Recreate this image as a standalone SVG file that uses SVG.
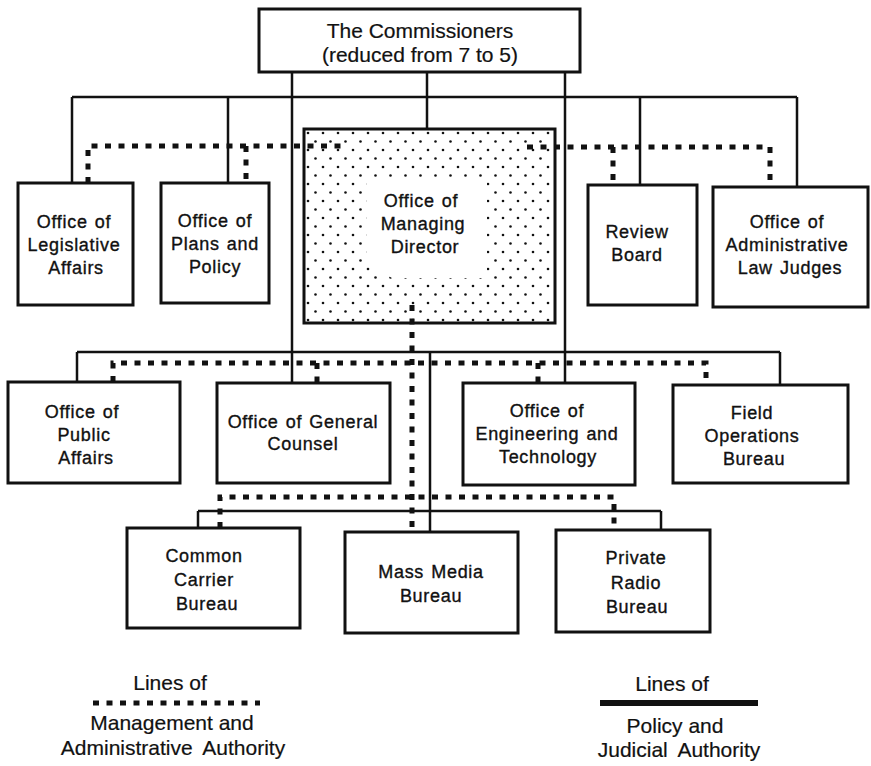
<svg xmlns="http://www.w3.org/2000/svg" width="871" height="766" viewBox="0 0 871 766">
<style>
.box{fill:#fff;stroke:#111;stroke-width:3}
.t{font-family:"Liberation Sans",Arial,sans-serif;font-size:18px;fill:#111;stroke:#111;stroke-width:0.35;text-anchor:middle;letter-spacing:0.7px;word-spacing:1.5px}
.tc{font-family:"Liberation Sans",Arial,sans-serif;font-size:21px;fill:#111;stroke:#111;stroke-width:0.2;text-anchor:middle}
.sol{fill:none;stroke:#111;stroke-width:2.5}
.dot{fill:none;stroke:#111;stroke-width:5;stroke-dasharray:6 7.5}
</style>
<defs>
<pattern id="stip" patternUnits="userSpaceOnUse" width="15" height="17" x="304" y="129">
<circle cx="4" cy="4" r="1.3" fill="#111"/>
<circle cx="11.5" cy="12.5" r="1.3" fill="#111"/>
</pattern>
</defs>
<rect width="871" height="766" fill="#fff"/>
<g id="commissioners">
<rect class="box" x="259" y="9" width="321" height="63"/>
<text class="tc" x="420" y="38">The Commissioners</text>
<text class="tc" x="420" y="62">(reduced from 7 to 5)</text>
</g>
<g id="legislative">
<rect class="box" x="18" y="183" width="115" height="122"/>
<text class="t" x="74" y="228">Office of</text>
<text class="t" x="74" y="251">Legislative</text>
<text class="t" x="76" y="274">Affairs</text>
</g>
<g id="plans">
<rect class="box" x="161" y="183" width="108" height="120"/>
<text class="t" x="215" y="227">Office of</text>
<text class="t" x="215" y="250">Plans and</text>
<text class="t" x="215" y="273">Policy</text>
</g>
<g id="managing-director">
<rect class="box" x="304" y="129" width="251" height="194" style="fill:url(#stip)"/>
<path d="M367,177H487V278H392L367,264Z" fill="#fff"/>
<text class="t" x="421" y="207">Office of</text>
<text class="t" x="423" y="230">Managing</text>
<text class="t" x="425" y="253">Director</text>
</g>
<g id="review-board">
<rect class="box" x="588" y="185" width="109" height="120"/>
<text class="t" x="637" y="238">Review</text>
<text class="t" x="637" y="261">Board</text>
</g>
<g id="alj">
<rect class="box" x="713" y="187" width="155" height="120"/>
<text class="t" x="787" y="228">Office of</text>
<text class="t" x="787" y="251">Administrative</text>
<text class="t" x="790" y="274">Law Judges</text>
</g>
<g id="public-affairs">
<rect class="box" x="8" y="382" width="172" height="101"/>
<text class="t" x="82" y="418">Office of</text>
<text class="t" x="84" y="441">Public</text>
<text class="t" x="86" y="464">Affairs</text>
</g>
<g id="general-counsel">
<rect class="box" x="217" y="383" width="173" height="100"/>
<text class="t" x="303" y="428">Office of General</text>
<text class="t" x="303" y="450">Counsel</text>
</g>
<g id="engineering">
<rect class="box" x="463" y="383" width="172" height="102"/>
<text class="t" x="547" y="417">Office of</text>
<text class="t" x="547" y="440">Engineering and</text>
<text class="t" x="548" y="463">Technology</text>
</g>
<g id="field-operations">
<rect class="box" x="673" y="385" width="175" height="98"/>
<text class="t" x="752" y="419">Field</text>
<text class="t" x="752" y="442">Operations</text>
<text class="t" x="754" y="465">Bureau</text>
</g>
<g id="common-carrier">
<rect class="box" x="127" y="528" width="173" height="100"/>
<text class="t" x="204" y="562">Common</text>
<text class="t" x="204" y="586">Carrier</text>
<text class="t" x="207" y="610">Bureau</text>
</g>
<g id="mass-media">
<rect class="box" x="345" y="532" width="173" height="101"/>
<text class="t" x="431" y="578">Mass Media</text>
<text class="t" x="431" y="602">Bureau</text>
</g>
<g id="private-radio">
<rect class="box" x="556" y="530" width="154" height="102"/>
<text class="t" x="636" y="564">Private</text>
<text class="t" x="636" y="589">Radio</text>
<text class="t" x="637" y="613">Bureau</text>
</g>
<g id="connectors">
<path class="sol" d="M292,72V383 M427,72V129 M565,72V384 M72,97H797 M72,97V183 M228,97V183 M640,97V185 M797,97V187 M77,352H780 M77,352V382 M780,352V385 M430,352V532 M198,511H661 M198,511V528 M661,511V530"/>
<path class="dot" d="M88,183V146H343 M246,146V183 M527,147H770V187 M613,147V185"/>
<path class="dot" d="M113,382V363H706V385 M317,363V383 M538,363V383"/>
<path class="dot" d="M412,305V532 M220,528V497H614V530"/>
</g>
<g id="legend">
<text class="tc" x="170" y="690">Lines of</text>
<path class="dot" d="M93,703H260"/>
<text class="tc" x="172" y="730">Management and</text>
<text class="tc" x="173" y="755" word-spacing="5">Administrative Authority</text>
<text class="tc" x="672" y="691">Lines of</text>
<rect x="600" y="700" width="158" height="6" fill="#111"/>
<text class="tc" x="675" y="733">Policy and</text>
<text class="tc" x="679" y="757" word-spacing="5">Judicial Authority</text>
</g>
</svg>
